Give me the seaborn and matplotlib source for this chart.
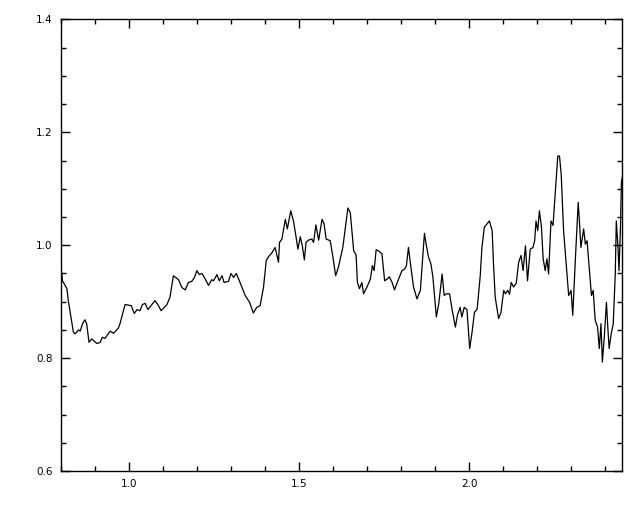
import numpy as np
import pandas as pd
import matplotlib
matplotlib.use("Agg")
import matplotlib.pyplot as plt
from matplotlib.ticker import MultipleLocator
import seaborn as sns

# values
wavelength = [
    0.801, 0.803, 0.805, 0.818, 0.822, 0.837, 0.842, 0.852, 0.857, 0.864,
    0.871, 0.876, 0.883, 0.891, 0.906, 0.916, 0.922, 0.930, 0.945, 0.955,
    0.969, 0.974, 0.989, 1.007, 1.016, 1.024, 1.033, 1.040, 1.048, 1.056,
    1.068, 1.077, 1.087, 1.095, 1.112, 1.121, 1.131, 1.146, 1.156, 1.166,
    1.175, 1.185, 1.193, 1.200, 1.207, 1.215, 1.222, 1.234, 1.244, 1.249,
    1.259, 1.266, 1.274, 1.280, 1.293, 1.300, 1.308, 1.316, 1.327, 1.342,
    1.355, 1.366, 1.376, 1.386, 1.396, 1.404, 1.411, 1.421, 1.430, 1.440,
    1.443, 1.450, 1.455, 1.460, 1.466, 1.476, 1.484, 1.491, 1.497, 1.504,
    1.510, 1.516, 1.521, 1.528, 1.538, 1.543, 1.550, 1.558, 1.568, 1.574,
    1.580, 1.592, 1.600, 1.608, 1.616, 1.629, 1.638, 1.644, 1.651, 1.661,
    1.668, 1.672, 1.678, 1.685, 1.690, 1.700, 1.710, 1.716, 1.721, 1.727,
    1.734, 1.744, 1.752, 1.759, 1.766, 1.774, 1.781, 1.791, 1.803, 1.811,
    1.816, 1.822, 1.829, 1.837, 1.847, 1.857, 1.869, 1.874, 1.881, 1.888,
    1.894, 1.904, 1.911, 1.921, 1.927, 1.933, 1.943, 1.950, 1.960, 1.966,
    1.974, 1.979, 1.986, 1.994, 2.002, 2.009, 2.016, 2.024, 2.033, 2.038,
    2.045, 2.053, 2.060, 2.068, 2.072, 2.077, 2.087, 2.094, 2.102, 2.107,
    2.114, 2.119, 2.124, 2.131, 2.139, 2.146, 2.153, 2.159, 2.166, 2.172,
    2.180, 2.188, 2.193, 2.197, 2.202, 2.207, 2.213, 2.218, 2.224, 2.229,
    2.234, 2.241, 2.247, 2.254, 2.261, 2.266, 2.271, 2.278, 2.288, 2.293,
    2.300, 2.305, 2.313, 2.321, 2.325, 2.329, 2.337, 2.342, 2.347, 2.355,
    2.360, 2.365, 2.371, 2.378, 2.383, 2.388, 2.392, 2.398, 2.404, 2.408,
    2.412, 2.418, 2.424, 2.430, 2.433, 2.438, 2.441, 2.445, 2.448, 2.453,
]
flux = [
    0.955, 0.950, 0.937, 0.923, 0.902, 0.846, 0.843, 0.850, 0.848, 0.861,
    0.868, 0.861, 0.828, 0.834, 0.826, 0.828, 0.837, 0.835, 0.848, 0.844,
    0.853, 0.861, 0.895, 0.893, 0.879, 0.886, 0.884, 0.895, 0.897, 0.886,
    0.895, 0.902, 0.893, 0.884, 0.895, 0.908, 0.946, 0.939, 0.925, 0.921,
    0.934, 0.936, 0.943, 0.955, 0.948, 0.950, 0.943, 0.929, 0.939, 0.937,
    0.948, 0.937, 0.946, 0.934, 0.936, 0.950, 0.943, 0.950, 0.934, 0.911,
    0.899, 0.880, 0.890, 0.893, 0.926, 0.973, 0.980, 0.987, 0.996, 0.970,
    1.005, 1.011, 1.029, 1.046, 1.029, 1.061, 1.043, 1.017, 0.993, 1.015,
    0.999, 0.974, 1.005, 1.009, 1.011, 1.005, 1.036, 1.009, 1.046, 1.038,
    1.011, 1.008, 0.979, 0.946, 0.961, 0.996, 1.038, 1.066, 1.058, 0.990,
    0.983, 0.934, 0.923, 0.934, 0.914, 0.926, 0.940, 0.964, 0.955, 0.992,
    0.990, 0.985, 0.937, 0.940, 0.944, 0.934, 0.921, 0.937, 0.955, 0.958,
    0.964, 0.996, 0.962, 0.926, 0.905, 0.920, 1.021, 1.002, 0.979, 0.967,
    0.943, 0.873, 0.896, 0.949, 0.911, 0.914, 0.914, 0.887, 0.855, 0.876,
    0.890, 0.873, 0.890, 0.886, 0.817, 0.846, 0.881, 0.887, 0.946, 0.996,
    1.032, 1.038, 1.043, 1.026, 0.967, 0.908, 0.870, 0.881, 0.920, 0.914,
    0.920, 0.913, 0.934, 0.926, 0.933, 0.970, 0.982, 0.955, 0.999, 0.937,
    0.993, 0.996, 1.008, 1.043, 1.026, 1.061, 1.032, 0.976, 0.955, 0.976,
    0.949, 1.043, 1.035, 1.096, 1.158, 1.158, 1.126, 1.026, 0.949, 0.911,
    0.920, 0.876, 0.979, 1.076, 1.038, 0.996, 1.029, 1.002, 1.008, 0.949,
    0.911, 0.920, 0.867, 0.855, 0.817, 0.861, 0.793, 0.840, 0.899, 0.855,
    0.817, 0.843, 0.861, 0.949, 1.043, 0.996, 0.955, 1.026, 1.111, 1.129,
]

df = pd.DataFrame({"x": wavelength, "y": flux})

sns.set_style("ticks")
plt.rcParams["font.family"] = ["DejaVu Sans"]

fig = plt.figure(figsize=(6.4, 5.12), dpi=100)
ax = fig.add_axes([0.095, 0.080, 0.877, 0.882])

sns.lineplot(data=df, x="x", y="y", ax=ax, color="black", linewidth=0.9,
             sort=False, estimator=None)

ax.set_xlim(0.8, 2.45)
ax.set_ylim(0.6, 1.4)
ax.xaxis.set_major_locator(MultipleLocator(0.5))
ax.xaxis.set_minor_locator(MultipleLocator(0.1))
ax.yaxis.set_major_locator(MultipleLocator(0.2))
ax.yaxis.set_minor_locator(MultipleLocator(0.05))
ax.xaxis.set_major_formatter(plt.FormatStrFormatter("%.1f"))
ax.yaxis.set_major_formatter(plt.FormatStrFormatter("%.1f"))
ax.set_xlabel("")
ax.set_ylabel("")

for s in ax.spines.values():
    s.set_visible(True)
    s.set_color("black")
    s.set_linewidth(1.0)

ax.tick_params(which="both", direction="in", top=True, right=True,
               color="black", width=1.0, labelsize=7.5, labelcolor="black")
ax.tick_params(which="major", length=6.5, pad=6)
ax.tick_params(which="minor", length=3.6)

fig.savefig("out.png", dpi=100, facecolor="white")
